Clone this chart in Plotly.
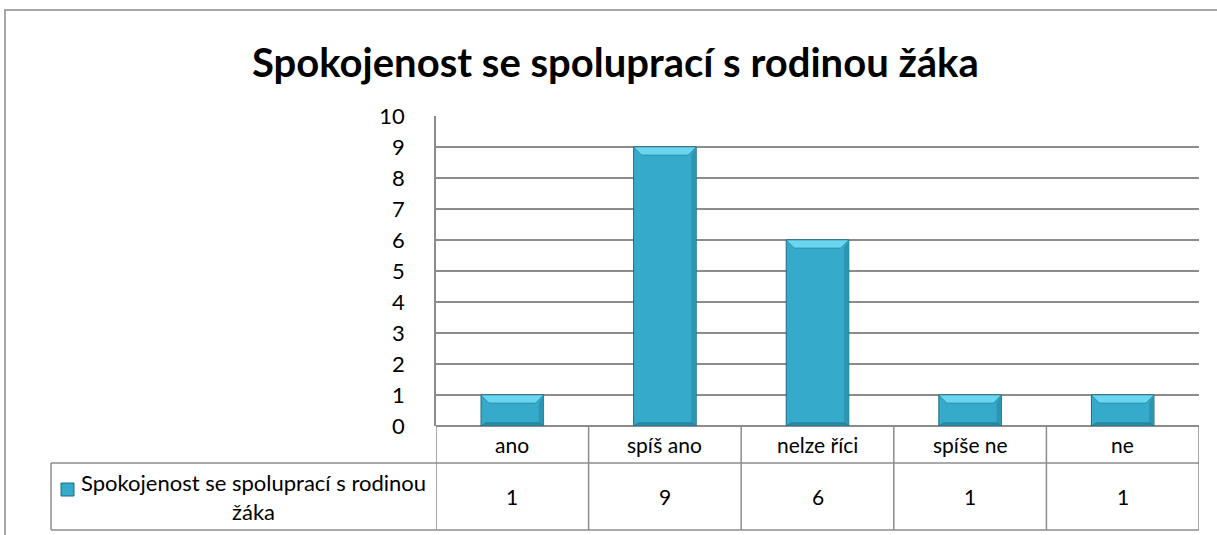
import plotly.graph_objects as go

categories = ["ano", "spíš ano", "nelze říci", "spíše ne", "ne"]
values = [1, 9, 6, 1, 1]
series_name = "Spokojenost se spoluprací s rodinou žáka"
title_text = "Spokojenost se spoluprací s rodinou žáka"
y_ticks = list(range(0, 11))

FW, FH = 1217, 535
L, R, T, B = 436, 18, 116, 109
PW, PH = FW - L - R, FH - T - B

def px(xp):
    return (xp - L) / PW

def py(yp):
    return (FH - B - yp) / PH

FONT = "Lato, 'Open Sans', sans-serif"
GRID = "#8C8C8C"
BAR = "#35AACB"
BAR_LINE = "#1D6A80"
BEVEL_TOP = "#6AD6F0"
BEVEL_BOT = "#2A8AA5"
BEVEL_SIDE = "#2C95B2"
BAR_W = 0.41

fig = go.Figure()
xs = list(range(len(categories)))
fig.add_trace(go.Bar(
    x=xs, y=values, width=BAR_W, name=series_name,
    marker=dict(color=BAR, line=dict(color=BAR_LINE, width=1)),
    showlegend=False, hoverinfo="x+y",
))

# bevel polygons derived from data values
unit_px = PH / 10.0
cat_px = PW / len(categories)
dx = 8 / cat_px
dy = 8 / unit_px
for i, v in enumerate(values):
    x0, x1 = i - BAR_W / 2, i + BAR_W / 2
    fig.add_trace(go.Scatter(
        x=[x1, x1, x1 - dx * 0.6, x1 - dx * 0.6, x1], y=[v, 0, dy * 0.4, v - dy, v],
        fill="toself", fillcolor=BEVEL_SIDE, mode="lines",
        line=dict(color=BEVEL_SIDE, width=0), showlegend=False, hoverinfo="skip"))
    fig.add_trace(go.Scatter(
        x=[x0, x1, x1 - dx, x0 + dx, x0], y=[v, v, v - dy, v - dy, v],
        fill="toself", fillcolor=BEVEL_TOP, mode="lines",
        line=dict(color=BAR_LINE, width=0.5), showlegend=False, hoverinfo="skip"))
    fig.add_trace(go.Scatter(
        x=[x0, x1, x1 - dx * 0.6, x0 + dx * 0.6, x0], y=[0, 0, dy * 0.4, dy * 0.4, 0],
        fill="toself", fillcolor=BEVEL_BOT, mode="lines",
        line=dict(color=BAR_LINE, width=0.5), showlegend=False, hoverinfo="skip"))

shapes = []
shapes.append(dict(type="rect", xref="paper", yref="paper",
                   x0=px(5), x1=px(1240), y0=py(10), y1=py(600),
                   line=dict(color="#8A8A8A", width=1.5), layer="below"))
tbl_top, tbl_mid, tbl_bot = 426, 463, 530
leg_left = 51
line_style = dict(color=GRID, width=1.5)
shapes.append(dict(type="line", xref="paper", yref="paper", x0=px(L), x1=px(FW - R),
                   y0=py(tbl_mid), y1=py(tbl_mid), line=line_style))
shapes.append(dict(type="line", xref="paper", yref="paper", x0=px(leg_left), x1=px(L),
                   y0=py(tbl_mid), y1=py(tbl_mid), line=line_style))
shapes.append(dict(type="line", xref="paper", yref="paper", x0=px(leg_left), x1=px(FW - R),
                   y0=py(tbl_bot), y1=py(tbl_bot), line=line_style))
shapes.append(dict(type="line", xref="paper", yref="paper", x0=px(leg_left), x1=px(leg_left),
                   y0=py(tbl_mid), y1=py(tbl_bot), line=line_style))
for i in range(len(categories) + 1):
    shapes.append(dict(type="line", xref="x", yref="paper", x0=i - 0.5, x1=i - 0.5,
                       y0=py(tbl_top), y1=py(tbl_bot), line=line_style))
shapes.append(dict(type="rect", xref="paper", yref="paper",
                   x0=px(61), x1=px(74), y0=py(496), y1=py(483),
                   fillcolor=BAR, line=dict(color=BAR_LINE, width=1)))

CELL_FONT = dict(family=FONT, size=21, color="#000")
annotations = []
for i, (c, v) in enumerate(zip(categories, values)):
    annotations.append(dict(x=i, y=py((tbl_top + tbl_mid) / 2), xref="x", yref="paper",
                            text=c, showarrow=False, font=CELL_FONT,
                            xanchor="center", yanchor="middle"))
    annotations.append(dict(x=i, y=py((tbl_mid + tbl_bot) / 2), xref="x", yref="paper",
                            text=str(v), showarrow=False, font=CELL_FONT,
                            xanchor="center", yanchor="middle"))
annotations.append(dict(x=px(253), y=py(497), xref="paper", yref="paper",
                        text="Spokojenost se spoluprací s rodinou<br>žáka", showarrow=False,
                        font=dict(family=FONT, size=22, color="#000"), align="center",
                        xanchor="center", yanchor="middle"))
annotations.append(dict(x=px(615), y=py(62), xref="paper", yref="paper",
                        text="<b>" + title_text + "</b>", showarrow=False,
                        font=dict(family=FONT, size=40, color="#000"),
                        xanchor="center", yanchor="middle"))

fig.update_layout(
    width=FW, height=FH,
    margin=dict(l=L, r=R, t=T, b=B, pad=0),
    paper_bgcolor="white", plot_bgcolor="white",
    shapes=shapes, annotations=annotations,
    xaxis=dict(range=[-0.5, len(categories) - 0.5], showticklabels=False, showgrid=False,
               zeroline=False, showline=False, fixedrange=True),
    yaxis=dict(range=[0, 10], tickvals=y_ticks, ticktext=[str(t) for t in y_ticks],
               showgrid=True, gridcolor=GRID, gridwidth=1.5,
               showline=True, linecolor=GRID, linewidth=1.5,
               zeroline=True, zerolinecolor=GRID, zerolinewidth=1.5,
               ticks="", ticklabelstandoff=25,
               tickfont=dict(family=FONT, size=22, color="#000"), fixedrange=True),
    showlegend=False,
)

fig.write_html("out.html", config={"displayModeBar": False},
               post_script="document.body.style.margin='0';document.body.style.overflow='hidden';")
